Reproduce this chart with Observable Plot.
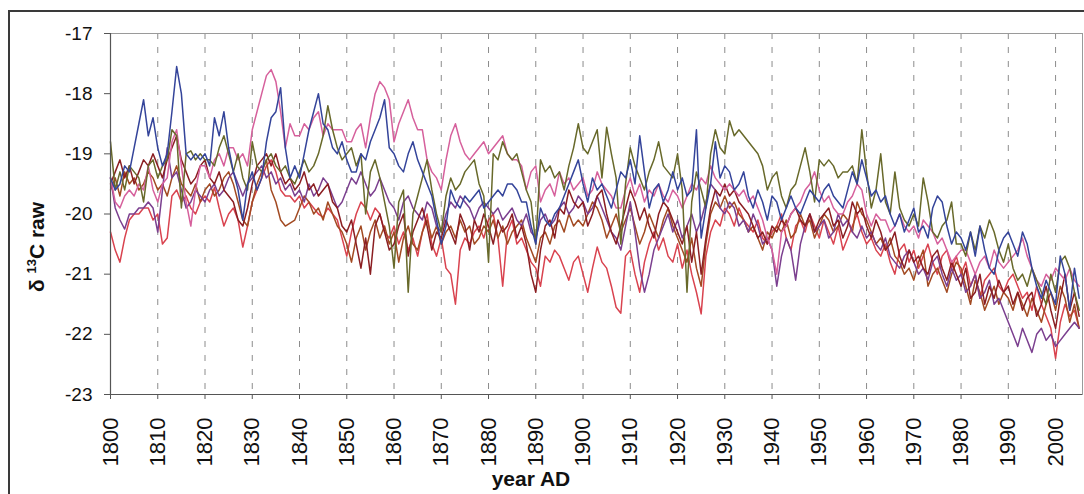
<!DOCTYPE html>
<html>
<head>
<meta charset="utf-8">
<script src="https://cdn.jsdelivr.net/npm/d3@7"></script>
<script src="https://cdn.jsdelivr.net/npm/@observablehq/plot@0.6"></script>
<style>
  html, body { margin: 0; padding: 0; background: #ffffff; overflow: hidden; }
  #wrap { position: relative; width: 1084px; height: 494px; }
  #frame { position: absolute; left: 8px; top: 10px; width: 1200px; height: 600px; border: 2px solid #3a3a3a; box-sizing: border-box; }
  #chart { position: absolute; left: 0; top: 0; }
</style>
</head>
<body>
<div id="wrap"><div id="frame"></div><div id="chart"></div></div>
<script>
// Annual δ13C (raw) series, one value per year from 1800 to 2005
const startYear = 1800;

const series1 = [
  -19.4,-19.6,-19.5,-19.2,-19.3,-18.9,-18.5,-18.1,-18.7,-18.4,
  -18.9,-19.2,-19.0,-18.3,-17.55,-18.0,-19.0,-19.1,-19.0,-19.1,
  -19.0,-19.2,-18.4,-18.7,-18.3,-18.9,-19.3,-19.6,-20.1,-19.5,
  -19.3,-19.6,-19.4,-18.8,-18.4,-18.3,-17.9,-18.9,-19.4,-19.2,
  -19.4,-19.0,-18.6,-18.3,-18.0,-18.5,-18.6,-18.9,-19.0,-18.8,
  -19.1,-19.3,-19.3,-19.0,-19.1,-18.8,-18.6,-18.4,-18.1,-18.9,
  -19.0,-19.2,-19.3,-19.0,-18.8,-19.1,-19.3,-19.5,-19.7,-20.1,
  -20.5,-20.2,-19.6,-19.8,-19.9,-19.7,-19.8,-19.7,-19.6,-19.9,
  -19.8,-19.7,-19.6,-19.7,-19.5,-19.5,-19.6,-19.8,-19.8,-20.2,
  -20.5,-19.9,-20.1,-20.2,-20.0,-19.9,-19.7,-19.5,-19.3,-19.1,
  -19.5,-19.8,-19.4,-19.6,-19.5,-19.7,-19.9,-19.6,-19.3,-19.4,
  -19.1,-19.5,-18.7,-19.3,-19.9,-19.6,-19.5,-19.8,-19.6,-19.3,
  -19.6,-19.4,-19.7,-19.6,-18.6,-20.4,-19.9,-19.5,-18.8,-19.4,
  -19.2,-19.3,-19.6,-19.5,-19.3,-19.7,-19.9,-19.6,-19.8,-20.1,
  -19.7,-19.8,-20.1,-19.9,-19.7,-19.9,-20.0,-19.8,-19.6,-19.7,
  -19.8,-19.6,-19.5,-19.7,-19.8,-19.9,-19.6,-19.3,-19.5,-19.1,
  -19.4,-19.7,-19.6,-19.8,-19.7,-20.0,-20.2,-20.0,-20.3,-20.1,
  -19.9,-20.3,-20.2,-20.4,-19.9,-19.7,-19.8,-20.2,-20.5,-20.3,
  -20.4,-20.6,-20.3,-20.7,-20.2,-20.6,-20.9,-21.0,-20.6,-20.4,
  -20.3,-20.5,-20.7,-20.3,-20.5,-20.9,-21.2,-21.4,-21.1,-21.3,
  -21.5,-20.7,-21.0,-21.6,-20.9,-21.4
];

const series2 = [
  -19.4,-19.8,-19.9,-19.7,-19.6,-19.7,-19.5,-19.6,-19.2,-19.6,
  -19.8,-19.5,-19.4,-18.8,-18.6,-19.2,-19.8,-20.2,-19.6,-19.2,
  -19.2,-19.4,-19.1,-19.0,-19.2,-18.9,-18.9,-19.1,-19.0,-19.2,
  -18.6,-18.3,-18.0,-17.7,-17.6,-17.8,-18.3,-18.9,-18.5,-18.7,
  -18.7,-18.5,-18.6,-18.4,-18.3,-18.7,-18.5,-18.6,-18.6,-18.6,
  -18.8,-18.8,-18.6,-18.5,-18.9,-18.4,-18.0,-17.8,-17.9,-18.1,
  -18.8,-18.5,-18.3,-18.1,-18.4,-18.6,-18.6,-19.1,-19.3,-19.4,
  -19.6,-19.1,-18.7,-18.5,-18.8,-19.0,-19.1,-19.0,-18.9,-18.8,
  -19.0,-18.9,-18.8,-18.7,-19.0,-19.1,-19.1,-19.2,-19.6,-19.3,
  -19.2,-19.8,-19.6,-19.5,-19.7,-19.3,-19.5,-19.4,-19.6,-19.5,
  -19.4,-19.7,-19.6,-19.3,-19.5,-19.6,-19.7,-19.9,-19.9,-19.6,
  -19.4,-19.7,-19.5,-19.8,-19.6,-19.7,-19.5,-19.7,-19.8,-19.6,
  -19.7,-19.9,-19.7,-19.5,-19.6,-19.4,-19.5,-19.2,-19.4,-19.5,
  -19.6,-19.5,-19.6,-19.7,-19.6,-19.8,-19.7,-19.9,-20.1,-20.4,
  -20.6,-21.0,-20.3,-20.2,-20.0,-19.9,-19.8,-19.6,-19.5,-19.3,
  -19.6,-19.8,-19.7,-19.9,-20.0,-20.0,-19.8,-19.7,-19.5,-19.6,
  -20.0,-20.2,-20.0,-20.1,-20.1,-20.3,-20.2,-20.0,-20.2,-20.3,
  -20.2,-20.4,-20.1,-20.2,-20.3,-20.5,-20.4,-20.6,-20.8,-20.7,
  -20.6,-20.6,-20.8,-21.0,-20.8,-20.7,-20.9,-20.6,-20.8,-20.9,
  -20.8,-20.7,-20.6,-20.4,-20.7,-20.9,-21.1,-21.2,-21.0,-21.1,
  -20.9,-21.0,-21.1,-20.9,-21.1,-21.2
];

const series3 = [
  -18.8,-19.6,-19.3,-19.6,-19.2,-19.3,-19.4,-19.8,-19.2,-19.1,
  -19.4,-19.2,-19.1,-18.6,-18.7,-19.9,-19.0,-18.95,-19.1,-19.0,
  -19.1,-19.1,-19.2,-18.9,-18.7,-19.0,-19.3,-19.0,-19.4,-19.6,
  -18.8,-19.2,-19.3,-19.1,-19.0,-19.2,-19.3,-19.2,-19.4,-19.5,
  -19.3,-19.1,-19.3,-19.2,-19.0,-18.7,-18.2,-18.6,-18.9,-19.1,
  -19.0,-18.9,-19.2,-19.0,-20.0,-19.3,-19.1,-19.4,-19.8,-20.2,
  -20.9,-19.8,-19.6,-21.3,-20.0,-19.7,-19.4,-19.1,-19.6,-20.0,
  -20.3,-19.7,-19.4,-19.6,-19.5,-19.3,-19.2,-19.1,-19.5,-19.7,
  -20.8,-19.0,-19.1,-18.8,-19.0,-19.1,-19.0,-19.3,-19.6,-19.8,
  -20.5,-19.1,-19.3,-19.2,-19.4,-19.3,-19.6,-19.2,-18.9,-18.5,
  -18.9,-19.0,-18.8,-18.6,-19.4,-18.56,-19.0,-19.4,-20.5,-19.5,
  -18.9,-19.2,-19.4,-19.6,-19.3,-19.1,-18.8,-19.2,-19.3,-19.4,
  -19.0,-19.6,-21.3,-19.8,-19.3,-19.6,-19.9,-19.0,-18.6,-18.9,
  -19.0,-18.45,-18.7,-18.6,-18.7,-18.8,-18.9,-19.0,-19.2,-19.6,
  -19.4,-19.3,-19.7,-19.9,-19.6,-19.5,-19.2,-18.9,-19.3,-19.8,
  -19.1,-19.2,-19.1,-19.2,-19.4,-19.3,-19.3,-19.2,-19.5,-18.6,
  -19.3,-19.9,-19.6,-19.0,-19.8,-20.0,-19.3,-19.9,-20.1,-20.2,
  -20.0,-20.2,-19.4,-19.8,-20.3,-20.4,-20.2,-20.1,-19.8,-20.5,
  -20.5,-20.7,-20.3,-20.6,-20.2,-20.4,-20.1,-20.3,-20.6,-20.8,
  -20.5,-20.9,-21.1,-21.0,-21.2,-20.9,-21.1,-21.3,-21.5,-21.0,
  -21.3,-20.8,-20.7,-20.9,-21.3,-21.6
];

const series4 = [
  -19.5,-19.3,-19.1,-19.4,-19.2,-19.5,-19.3,-19.1,-19.2,-19.0,
  -19.2,-19.4,-19.1,-18.9,-18.7,-19.1,-19.3,-19.5,-19.4,-19.2,
  -19.1,-19.4,-19.5,-19.3,-19.6,-19.7,-19.8,-20.1,-20.2,-19.9,
  -19.5,-19.2,-19.1,-19.0,-19.2,-19.0,-19.3,-19.5,-19.4,-19.6,
  -19.5,-19.3,-19.6,-19.5,-19.7,-19.6,-19.5,-19.8,-19.9,-20.2,
  -20.3,-20.1,-20.5,-20.9,-20.4,-21.0,-20.2,-20.0,-20.3,-20.6,
  -20.5,-20.2,-20.0,-20.7,-20.3,-20.1,-19.9,-20.2,-20.6,-20.3,
  -20.4,-20.1,-20.3,-20.5,-20.0,-20.2,-20.6,-20.1,-20.3,-20.0,
  -20.2,-20.5,-20.1,-20.3,-20.2,-20.0,-20.4,-20.2,-20.5,-21.0,
  -21.3,-20.6,-20.2,-20.1,-20.4,-19.9,-20.0,-19.6,-19.8,-19.9,
  -19.8,-20.2,-20.0,-19.7,-19.6,-20.0,-20.3,-20.5,-20.2,-19.9,
  -19.6,-19.8,-20.1,-19.9,-20.2,-20.4,-20.0,-19.8,-19.9,-20.1,
  -20.3,-20.5,-20.2,-20.8,-20.3,-21.0,-20.4,-19.9,-19.6,-19.7,
  -19.5,-19.7,-19.6,-19.8,-19.9,-20.0,-20.2,-20.4,-20.3,-20.5,
  -20.2,-20.3,-20.1,-20.2,-20.0,-19.9,-20.1,-20.2,-20.0,-20.3,
  -20.1,-20.0,-19.9,-20.2,-20.1,-20.4,-20.2,-19.8,-20.0,-19.9,
  -20.2,-20.4,-20.1,-20.3,-20.6,-20.5,-20.3,-20.7,-20.9,-20.6,
  -20.8,-20.7,-20.9,-21.0,-20.7,-20.6,-20.9,-21.1,-20.8,-21.0,
  -21.2,-20.9,-21.4,-21.3,-21.0,-21.5,-21.2,-21.4,-21.1,-21.3,
  -21.2,-21.5,-21.3,-21.6,-21.4,-21.3,-21.7,-21.5,-21.2,-21.6,
  -21.9,-21.4,-21.0,-21.6,-21.3,-21.7
];

const series5 = [
  -19.4,-19.9,-20.1,-20.25,-20.0,-20.0,-19.9,-19.9,-19.8,-19.9,
  -20.3,-19.6,-18.9,-19.4,-19.3,-19.6,-19.9,-19.8,-19.6,-19.7,
  -19.8,-19.6,-19.5,-19.7,-19.6,-19.4,-19.3,-19.5,-19.7,-19.5,
  -19.4,-19.3,-19.2,-19.4,-19.3,-19.5,-19.4,-19.6,-19.5,-19.7,
  -19.6,-19.8,-19.5,-19.7,-19.6,-19.4,-19.5,-19.7,-19.9,-19.8,
  -19.6,-19.4,-19.5,-19.3,-19.5,-19.7,-19.6,-19.4,-19.6,-19.8,
  -19.9,-20.1,-19.8,-19.7,-19.9,-20.0,-20.1,-19.8,-19.9,-20.2,
  -20.3,-20.0,-19.8,-19.9,-19.7,-19.8,-19.9,-20.1,-19.9,-19.8,
  -19.9,-20.0,-19.9,-20.1,-20.0,-19.9,-20.1,-20.2,-20.0,-20.3,
  -20.4,-20.1,-20.0,-20.2,-20.1,-19.9,-19.8,-20.0,-19.9,-19.7,
  -19.8,-20.0,-19.9,-19.7,-19.9,-20.1,-20.3,-20.4,-20.6,-20.2,
  -19.8,-20.3,-20.9,-21.3,-21.0,-20.6,-20.4,-20.2,-20.0,-20.3,
  -20.1,-20.4,-20.2,-20.0,-20.3,-20.1,-19.8,-19.5,-19.6,-19.9,
  -20.0,-19.8,-19.9,-20.2,-20.1,-20.3,-20.0,-20.2,-20.5,-20.4,
  -20.6,-21.2,-20.7,-20.4,-20.6,-21.1,-20.5,-20.2,-20.0,-20.3,
  -20.2,-20.1,-20.4,-20.3,-20.0,-20.2,-20.1,-20.3,-20.4,-20.2,
  -20.4,-20.3,-20.5,-20.6,-20.4,-20.7,-20.8,-20.9,-20.7,-20.6,
  -20.8,-21.0,-20.9,-21.1,-20.8,-20.7,-21.0,-21.2,-20.9,-21.1,
  -21.0,-21.3,-21.2,-21.0,-21.4,-21.3,-21.1,-21.5,-21.4,-21.6,
  -21.8,-22.0,-22.2,-21.9,-22.1,-22.3,-22.0,-21.9,-22.1,-22.0,
  -22.2,-22.1,-22.0,-21.9,-21.8,-21.9
];

const series6 = [
  -20.3,-20.6,-20.8,-20.4,-20.1,-20.0,-20.0,-19.9,-19.9,-20.1,
  -20.0,-20.5,-20.4,-19.7,-19.6,-19.8,-19.7,-19.9,-20.0,-19.8,
  -19.7,-19.8,-19.56,-19.9,-20.2,-20.0,-19.9,-20.1,-20.55,-20.2,
  -19.8,-19.6,-19.4,-19.2,-19.1,-19.3,-19.6,-19.7,-19.7,-19.8,
  -19.7,-19.9,-19.8,-19.9,-20.0,-20.05,-19.9,-20.0,-20.1,-20.4,
  -20.7,-20.3,-20.0,-19.8,-19.9,-20.1,-19.9,-20.0,-20.3,-20.4,
  -20.2,-20.5,-20.3,-20.6,-20.4,-20.7,-20.3,-20.0,-20.5,-20.7,
  -20.4,-20.9,-21.0,-21.5,-20.6,-20.4,-20.5,-20.3,-20.2,-20.4,
  -20.1,-20.0,-20.4,-21.2,-20.3,-20.1,-20.5,-20.4,-20.6,-20.8,
  -20.9,-21.2,-20.7,-20.8,-20.6,-20.7,-20.9,-21.1,-20.8,-20.7,
  -21.0,-21.3,-20.9,-20.55,-20.8,-20.9,-21.2,-21.55,-21.65,-20.7,
  -20.6,-21.0,-21.3,-20.8,-20.5,-20.3,-20.6,-20.4,-20.7,-20.8,
  -20.5,-20.9,-20.6,-21.0,-21.3,-21.66,-20.7,-20.3,-20.1,-20.2,
  -19.9,-20.0,-20.2,-19.9,-20.1,-20.2,-20.3,-20.1,-20.4,-20.5,
  -20.3,-20.2,-20.0,-20.4,-20.6,-20.2,-20.1,-20.3,-20.0,-20.2,
  -20.4,-20.1,-20.3,-20.5,-20.2,-20.6,-20.4,-20.2,-20.0,-20.3,
  -20.5,-20.4,-20.6,-20.7,-20.5,-20.8,-21.0,-20.6,-20.5,-20.8,
  -20.6,-20.9,-20.7,-20.5,-20.8,-21.0,-20.7,-20.6,-20.9,-20.7,
  -21.0,-20.8,-21.2,-21.0,-21.4,-21.1,-21.0,-20.9,-21.2,-21.3,
  -21.1,-21.0,-21.2,-21.4,-21.3,-21.6,-21.2,-21.5,-21.7,-21.9,
  -22.4,-21.8,-21.5,-21.7,-21.6,-21.9
];

const series7 = [
  -19.6,-19.4,-19.7,-19.3,-19.5,-19.4,-19.6,-19.5,-19.3,-19.4,
  -19.6,-19.5,-19.7,-19.4,-19.2,-19.5,-19.6,-19.7,-19.5,-19.8,
  -19.6,-19.5,-19.7,-19.6,-19.4,-19.3,-19.5,-19.8,-20.1,-20.2,
  -19.8,-19.5,-19.3,-19.1,-19.6,-19.8,-20.1,-20.2,-20.15,-20.1,
  -19.9,-19.7,-19.8,-20.0,-19.9,-20.1,-19.8,-20.0,-20.2,-20.3,
  -20.5,-20.8,-20.4,-20.2,-20.6,-20.3,-20.1,-20.4,-20.2,-20.5,
  -20.3,-20.8,-20.4,-20.2,-20.5,-20.6,-20.3,-20.1,-20.4,-20.2,
  -20.5,-20.3,-20.2,-20.4,-20.1,-20.3,-20.2,-20.5,-20.4,-20.2,
  -20.3,-20.1,-20.4,-20.2,-20.5,-20.3,-20.2,-20.1,-20.4,-20.6,
  -20.8,-20.4,-20.3,-20.5,-20.2,-20.1,-20.3,-20.0,-20.2,-20.1,
  -20.2,-20.0,-19.8,-19.9,-20.1,-20.4,-20.2,-20.0,-20.3,-20.1,
  -19.9,-20.2,-20.5,-20.3,-20.0,-20.2,-20.4,-20.1,-19.9,-20.2,
  -20.4,-20.6,-20.8,-20.4,-20.9,-21.2,-20.5,-20.0,-19.8,-19.9,
  -19.7,-19.9,-19.8,-20.0,-20.1,-20.3,-20.2,-20.4,-20.6,-20.3,
  -20.4,-20.2,-20.3,-20.1,-20.4,-20.3,-20.0,-20.2,-20.1,-20.4,
  -20.2,-20.0,-20.1,-20.3,-20.2,-20.0,-20.1,-20.3,-19.8,-20.0,
  -20.1,-20.3,-20.5,-20.4,-20.6,-20.4,-20.7,-20.8,-21.0,-20.9,
  -21.1,-20.8,-20.6,-21.2,-21.0,-20.9,-21.1,-21.3,-21.0,-20.8,
  -20.9,-21.2,-21.5,-21.1,-21.3,-21.6,-21.4,-21.2,-21.5,-21.3,
  -21.4,-21.6,-21.3,-21.5,-21.7,-21.4,-21.6,-21.8,-21.5,-21.3,
  -21.6,-21.2,-21.4,-21.8,-21.5,-21.9
];

// Series drawn back to front, with their line colours
const seriesNames = ["S6", "S7", "S5", "S4", "S2", "S3", "S1"];
const seriesValues = [series6, series7, series5, series4, series2, series3, series1];
const seriesColors = ["#d9434f", "#a24a22", "#7b3f8f", "#8b1e22", "#d6609c", "#68692a", "#34449a"];

// Axis ticks
const xTicks = d3.range(1800, 2001, 10);
const gridYears = d3.range(1810, 2001, 10);
const yTicks = [-23, -22, -21, -20, -19, -18, -17];

const rows = seriesValues.flatMap((vals, s) =>
  vals.map((v, i) => ({ series: seriesNames[s], year: startYear + i, value: v }))
);

const font = "'Liberation Sans', Arial, sans-serif";

const chart = Plot.plot({
  width: 1084,
  height: 494,
  marginLeft: 110,
  marginRight: 2,
  marginTop: 33,
  marginBottom: 100,
  style: { background: "transparent", fontFamily: font, color: "#111" },
  x: { domain: [1800, 2005.7] },
  y: { domain: [-23, -17] },
  color: { type: "ordinal", domain: seriesNames, range: seriesColors },
  marks: [
    Plot.ruleX(gridYears, { stroke: "#8c8c8c", strokeWidth: 1, strokeDasharray: "6,8" }),
    Plot.frame({ stroke: "#9a9a9a", strokeWidth: 1 }),
    Plot.line(rows, { x: "year", y: "value", z: "series", stroke: "series", strokeWidth: 1.5, curve: "linear" }),
    Plot.ruleX([1800], { stroke: "#555", strokeWidth: 1.2 }),
    Plot.ruleY([-23], { stroke: "#555", strokeWidth: 1.2 }),
    Plot.axisX({ ticks: xTicks, tickFormat: d => String(d), tickRotate: -90, fontSize: 22, tickSize: 5, tickPadding: 18, label: null, stroke: "#555" }),
    Plot.axisY({ ticks: yTicks, tickFormat: d => d3.format("d")(d).replace("−", "-"), fontSize: 19, tickSize: 6, tickPadding: 12, label: null, stroke: "#555" })
  ]
});

document.getElementById("chart").appendChild(chart);

// Axis titles
const svg = d3.select(chart);
const yTitle = svg.append("text")
  .attr("transform", "translate(44,247) rotate(-90)")
  .attr("text-anchor", "middle")
  .attr("fill", "#111")
  .style("font-family", font)
  .style("font-weight", "bold")
  .style("font-size", "21px");
yTitle.append("tspan").text("δ ");
yTitle.append("tspan").attr("dy", -8).style("font-size", "13px").text("13");
yTitle.append("tspan").attr("dy", 8).text("C raw");

svg.append("text")
  .attr("x", 531)
  .attr("y", 486)
  .attr("text-anchor", "middle")
  .attr("fill", "#111")
  .style("font-family", font)
  .style("font-weight", "bold")
  .style("font-size", "21px")
  .text("year AD");
</script>
</body>
</html>
